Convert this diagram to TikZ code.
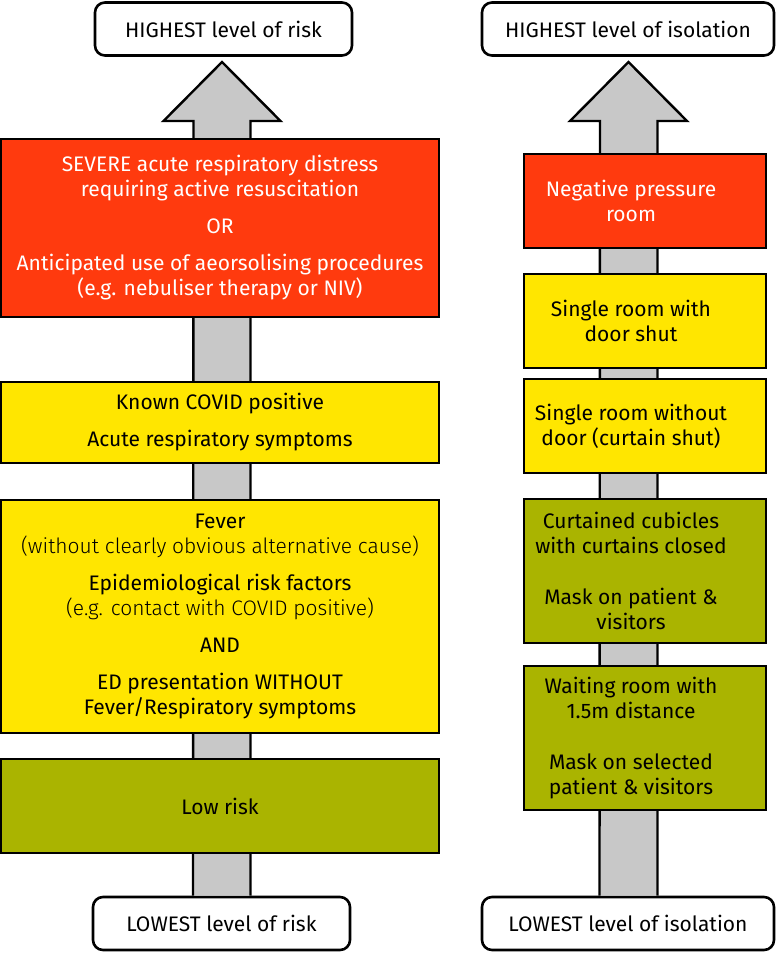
\documentclass[tikz,border=0pt]{standalone}
\usepackage{fontspec}
\setmainfont{Fira Sans}
\newfontface\lightface{Fira Sans Light}
\usepackage{tikz}
\usetikzlibrary{calc}

\definecolor{riskred}{RGB}{255,58,14}
\definecolor{riskyellow}{RGB}{255,230,0}
\definecolor{riskolive}{RGB}{170,180,0}
\definecolor{arrowgrey}{RGB}{200,200,200}

\begin{document}
\begin{tikzpicture}[x=1pt,y=-1pt,
  every node/.style={font=\fontsize{21}{25}\selectfont, align=center, inner sep=0pt},
  box/.style={draw, line width=2.6pt},
  isobox/.style 2 args={box, minimum width=242pt, label={[xshift=-14pt,#2]center:#1}},
  endbox/.style={draw, line width=2.6pt, fill=white, rounded corners=10pt, minimum height=53pt},
  bigarrow/.style={draw, line width=2.4pt, fill=arrowgrey, line join=miter}]
\useasboundingbox (0,0) rectangle (776,954);

% left column: risk
\node[endbox, minimum width=257pt] (riskHigh) at (223.5,29) {HIGHEST level of risk};
\node[endbox, minimum width=257pt] (riskLow) at (221.5,923.5) {LOWEST level of risk};
\coordinate (lt) at (222,62);
\draw[bigarrow] ($(riskLow.north)+(-28.5,0)$) -- (193.5,121) -- (163.5,121) -- (lt)
  -- (280.5,121) -- (250.5,121) -- ($(riskLow.north)+(29,0)$);

\node[box, fill=riskred, text=white, minimum width=438pt, minimum height=178pt] (severe) at (220,228)
  {SEVERE acute respiratory distress\\requiring active resuscitation\\[12pt]OR\\[12pt]
   Anticipated use of aeorsolising procedures\\(e.g. nebuliser therapy or NIV)};
\node[box, fill=riskyellow, minimum width=438pt, minimum height=81pt] (known) at (220,422.5)
  {Known COVID positive\\[12pt]Acute respiratory symptoms};
\node[box, fill=riskyellow, minimum width=438pt, minimum height=233pt] (fever) at (220,616.5)
  {Fever\\{\lightface(without clearly obvious alternative cause)}\\[12pt]Epidemiological risk factors\\
   {\lightface(e.g. contact with COVID positive)}\\[12pt]AND\\[12pt]ED presentation WITHOUT\\Fever/Respiratory symptoms};
\node[box, fill=riskolive, minimum width=438pt, minimum height=94pt] (low) at (220,806) {Low risk};

% right column: isolation
\node[endbox, minimum width=292pt] (isoHigh) at (628,29) {HIGHEST level of isolation};
\node[endbox, minimum width=292pt] (isoLow) at (628,923.5) {LOWEST level of isolation};
\coordinate (rt) at (628.5,62);
\draw[bigarrow] ($(isoLow.north)+(-28.5,0)$) -- (600,121) -- (570,121) -- (rt)
  -- (687,121) -- (657.5,121) -- ($(isoLow.north)+(29.5,0)$);

\node[isobox={Negative pressure\\room}{text=white}, fill=riskred, minimum height=94pt]
  (negative) at (645,201) {};
\node[isobox={Single room with\\door shut}{}, fill=riskyellow, minimum height=94pt] (shut) at (645,321) {};
\node[isobox={Single room without\\door (curtain shut)}{}, fill=riskyellow, minimum height=94pt]
  (curtain) at (645,426) {};
\node[isobox={Curtained cubicles\\with curtains closed\\[26pt]Mask on patient \&\\visitors}{},
  fill=riskolive, minimum height=144pt] (cubicle) at (645,571) {};
\node[isobox={Waiting room with\\1.5m distance\\[26pt]Mask on selected\\patient \& visitors}{},
  fill=riskolive, minimum height=144pt] (waiting) at (645,738) {};
\end{tikzpicture}
\end{document}
